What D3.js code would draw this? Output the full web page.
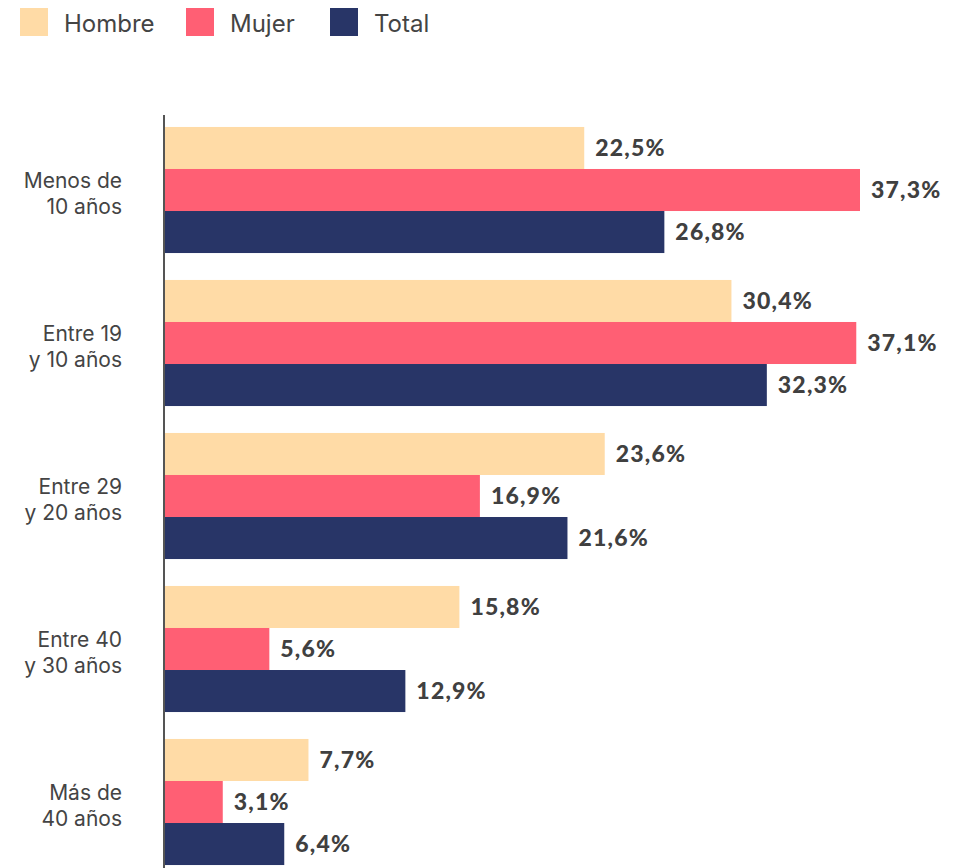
<!DOCTYPE html>
<html>
<head>
<meta charset="utf-8">
<script src="https://cdn.jsdelivr.net/npm/d3@7"></script>
<style>
  body { margin: 0; background: #fff; }
  svg { display: block; }
</style>
</head>
<body>
<div id="chart"></div>
<script>
// datos
const categories = ["Menos de|10 años", "Entre 19|y 10 años", "Entre 29|y 20 años", "Entre 40|y 30 años", "Más de|40 años"];
const seriesNames = ["Hombre", "Mujer", "Total"];
const hombre = [22.5, 30.4, 23.6, 15.8, 7.7];
const mujer = [37.3, 37.1, 16.9, 5.6, 3.1];
const total = [26.8, 32.3, 21.6, 12.9, 6.4];
const colors = ["#FFDBA6", "#FF5F74", "#283567"];

const width = 960, height = 868;

const svg = d3.select("#chart")
    .append("svg")
    .attr("width", width)
    .attr("height", height);

const rows = categories.map((c, i) => ({
    cat: c,
    values: [hombre[i], mujer[i], total[i]]
}));

const x = d3.scaleLinear().domain([0, 37.3]).range([165, 860]);

const y = d3.scaleBand()
    .domain(categories)
    .range([113.5, 878.5])
    .paddingInner(0.176)
    .paddingOuter(0.088);

const ySub = d3.scaleBand()
    .domain(seriesNames)
    .range([0, y.bandwidth()]);

const fmt = v => d3.format(".1f")(v).replace(".", ",") + "%";

// grupos
const group = svg.append("g")
    .selectAll("g")
    .data(rows)
    .join("g")
    .attr("transform", d => `translate(0,${y(d.cat)})`);

group.selectAll("rect")
    .data(d => d.values.map((v, j) => ({ v, s: seriesNames[j], j })))
    .join("rect")
    .attr("x", x(0))
    .attr("y", d => ySub(d.s))
    .attr("width", d => x(d.v) - x(0))
    .attr("height", ySub.bandwidth())
    .attr("fill", d => colors[d.j]);

group.selectAll("text.val")
    .data(d => d.values.map((v, j) => ({ v, s: seriesNames[j] })))
    .join("text")
    .attr("class", "val")
    .attr("x", d => x(d.v) + 11)
    .attr("y", d => ySub(d.s) + ySub.bandwidth() / 2)
    .attr("dy", "0.36em")
    .style("font-family", "Lato, 'Open Sans', sans-serif")
    .style("font-weight", "900")
    .style("font-size", "23px")
    .style("letter-spacing", "1.2px")
    .style("fill", "#404040")
    .text(d => fmt(d.v));

// etiquetas de categorías
const yAxis = svg.append("g");
yAxis.selectAll("text")
    .data(rows)
    .join("text")
    .attr("x", 122)
    .attr("y", d => y(d.cat) + y.bandwidth() / 2 + 3)
    .attr("text-anchor", "end")
    .style("font-family", "Inter, 'Liberation Sans', sans-serif")
    .style("font-size", "21px")
    .style("fill", "#444")
    .each(function(d) {
        const lines = d.cat.split("|");
        d3.select(this).selectAll("tspan")
            .data(lines)
            .join("tspan")
            .attr("x", 122)
            .attr("dy", (l, i) => i === 0 ? "-0.25em" : "1.25em")
            .text(l => l);
    });

// eje vertical
svg.append("line")
    .attr("x1", 164).attr("x2", 164)
    .attr("y1", 115).attr("y2", height)
    .attr("stroke", "#555")
    .attr("stroke-width", 2);

// leyenda
const legendX = [20, 186, 330];
const legend = svg.append("g")
    .selectAll("g")
    .data(seriesNames)
    .join("g")
    .attr("transform", (d, i) => `translate(${legendX[i]},8)`);

legend.append("rect")
    .attr("width", 28)
    .attr("height", 28)
    .attr("fill", (d, i) => colors[i]);

legend.append("text")
    .attr("x", 44)
    .attr("y", 15)
    .attr("dy", "0.36em")
    .style("font-family", "Inter, 'Liberation Sans', sans-serif")
    .style("font-size", "24px")
    .style("fill", "#444")
    .text(d => d);
</script>
</body>
</html>
